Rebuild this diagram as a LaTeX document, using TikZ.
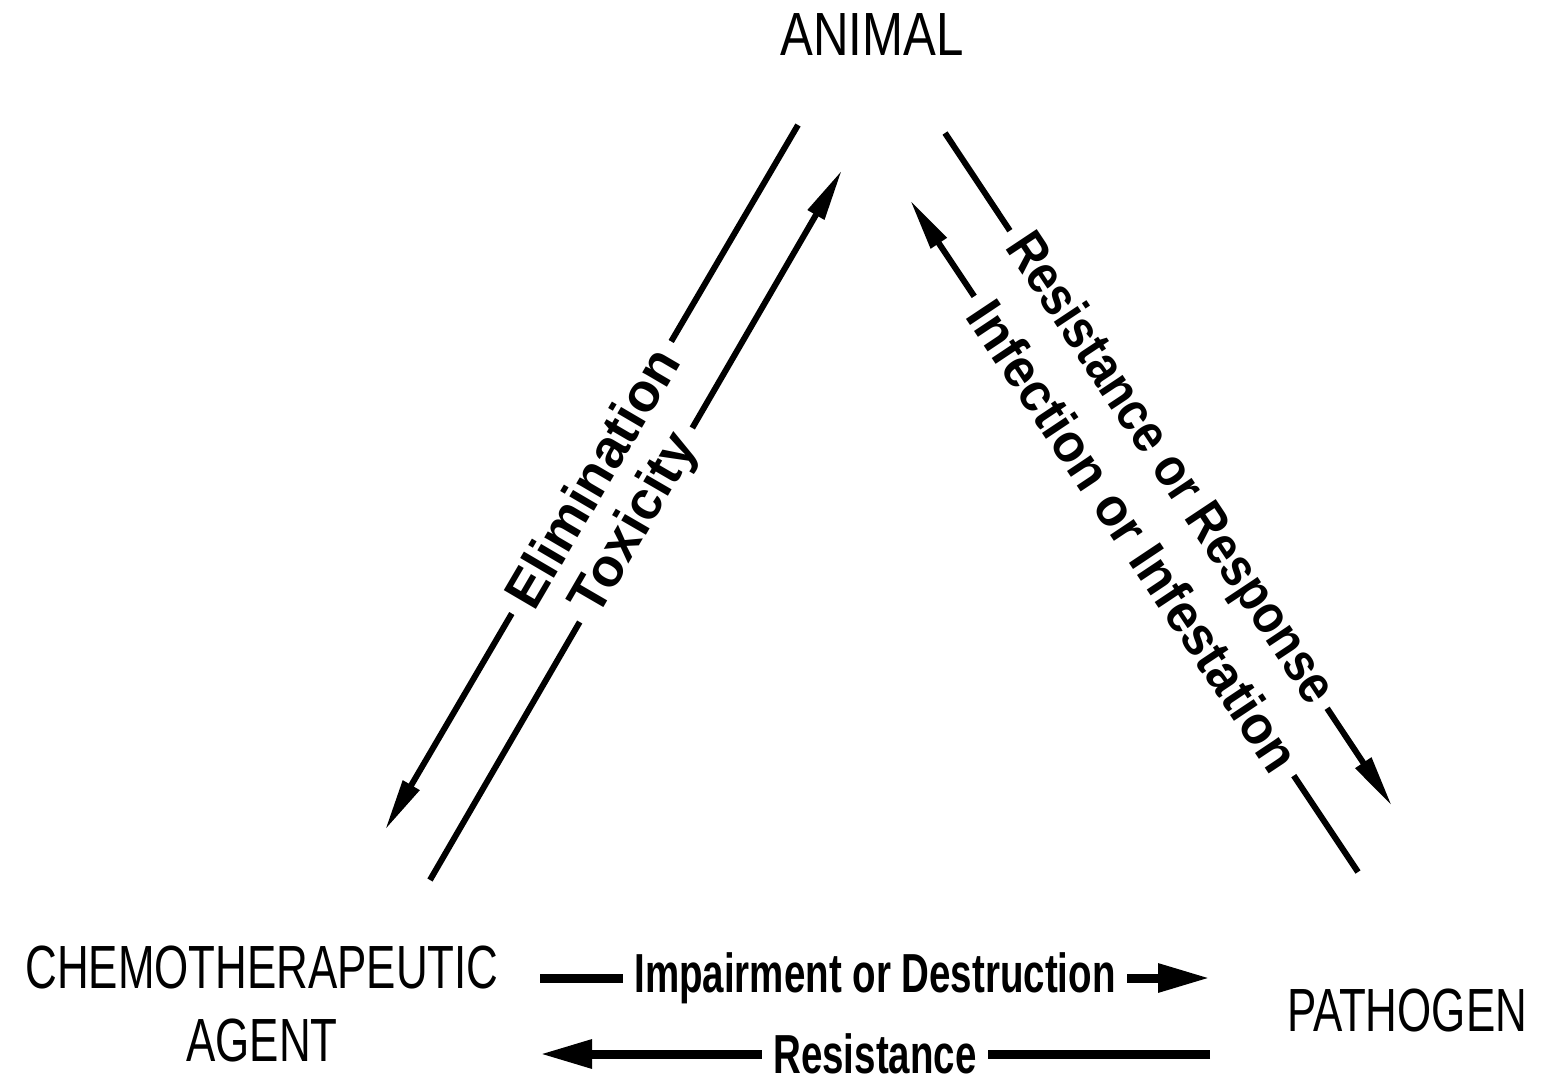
\documentclass[tikz,border=0pt]{standalone}
\usepackage{fontspec}
\setmainfont{Liberation Sans}
\usetikzlibrary{arrows.meta}
\begin{document}
\begin{tikzpicture}[x=1pt,y=-1pt,
  term/.style={font=\fontsize{61}{73}\selectfont, inner sep=0pt, align=center, xscale=0.72},
  lbl/.style={font=\bfseries\fontsize{55}{60}\selectfont, fill=white, inner xsep=16pt, inner ysep=0pt, xscale=0.7},
  dlbl/.style={font=\bfseries\fontsize{54}{60}\selectfont, fill=white, inner xsep=12pt, inner ysep=0pt},
  harr/.style={line width=9pt, -{Triangle[length=52pt,width=27pt]}},
  darr/.style={line width=6pt, -{Triangle[length=52pt,width=18pt]}}]
\useasboundingbox (0,0) rectangle (1548,1081);
\node[term, anchor=base, xscale=1.12] (animal) at (872,56) {ANIMAL};
\node[term] (agent) at (262,1004) {CHEMOTHERAPEUTIC\\AGENT};
\node[term] (pathogen) at (1407,1010) {PATHOGEN};
\coordinate (elimA) at (798,125);
\coordinate (elimB) at (385,830);
\coordinate (toxA) at (430,880);
\coordinate (toxB) at (842,170);
\coordinate (resA) at (945,133);
\coordinate (resB) at (1392,806);
\coordinate (infA) at (1358,872);
\coordinate (infB) at (910,200);
\coordinate (impA) at (540,978);
\coordinate (impB) at (1210,978);
\coordinate (rstA) at (1210,1054);
\coordinate (rstB) at (540,1054);
\draw[darr] (elimA) -- node[dlbl, sloped] (elim) {Elimination} (elimB);
\draw[darr] (toxA) -- node[dlbl, sloped] (tox) {Toxicity} (toxB);
\draw[darr] (resA) -- node[dlbl, rotate=-56.4, xscale=0.88] (res) {Resistance or Response} (resB);
\draw[darr] (infA) -- node[dlbl, rotate=-56.3, xscale=0.95] (inf) {Infection or Infestation} (infB);
\draw[harr] (impA) -- node[lbl] (imp) {Impairment or Destruction} (impB);
\draw[harr] (rstA) -- node[lbl] (rst) {Resistance} (rstB);
\end{tikzpicture}
\end{document}
